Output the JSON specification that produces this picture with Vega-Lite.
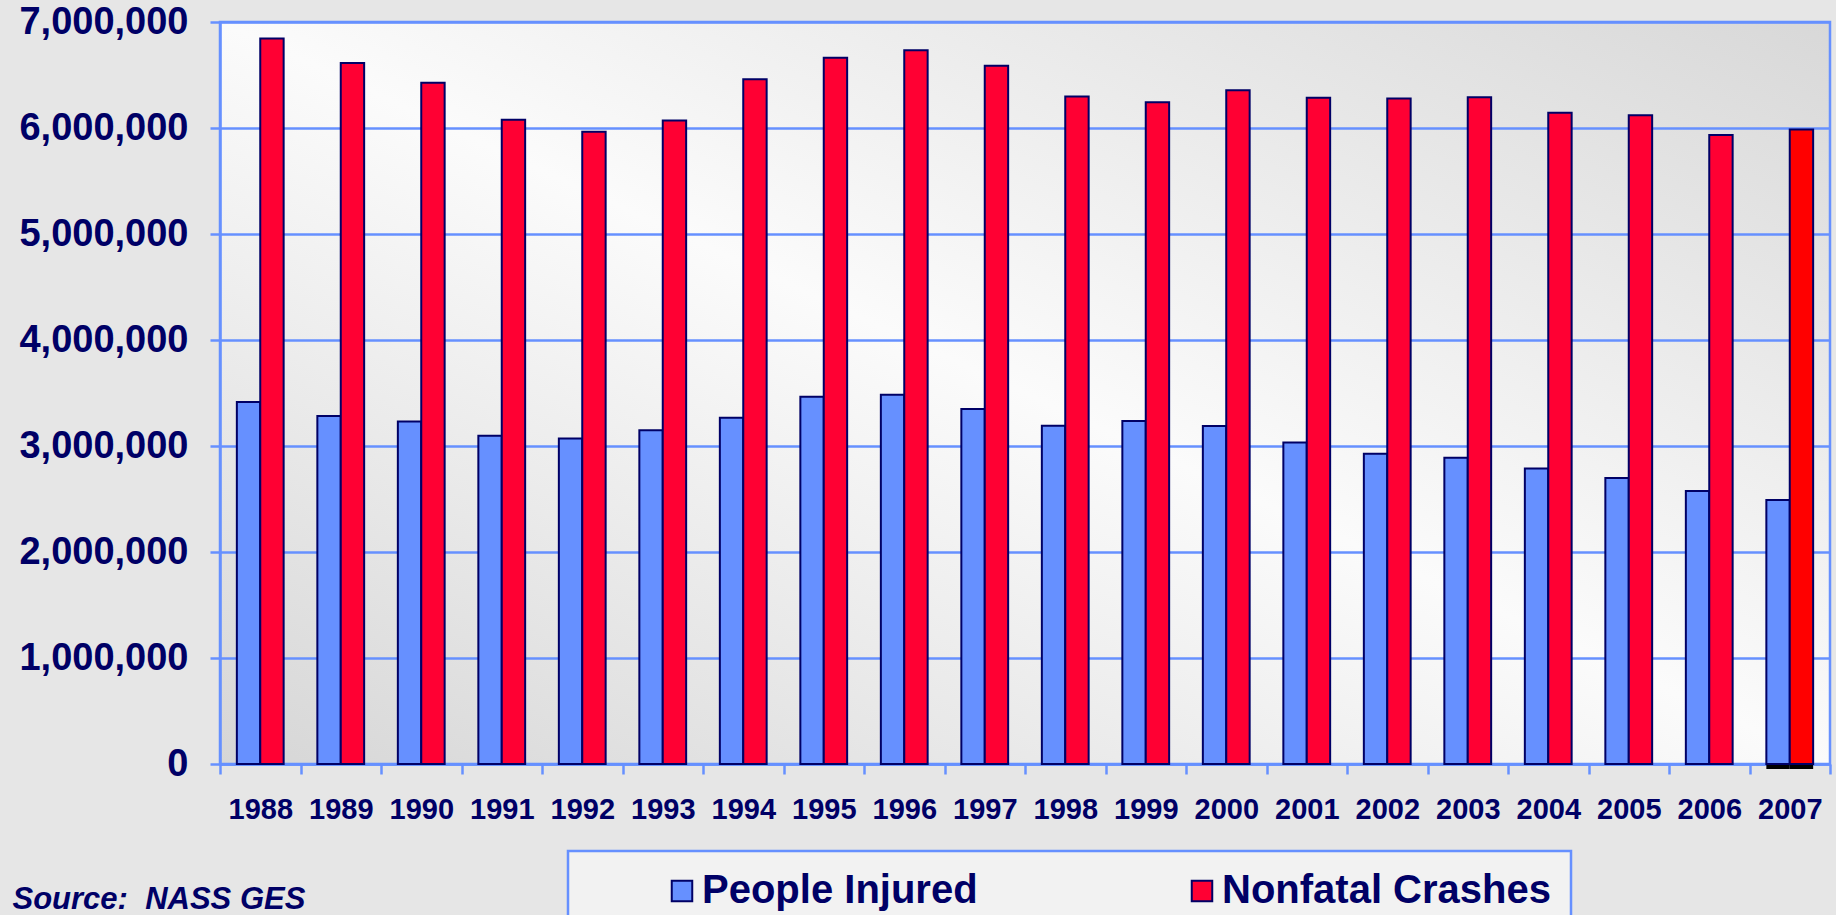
{
  "$schema": "https://vega.github.io/schema/vega-lite/v6.json",
  "width": 1610,
  "height": 742,
  "autosize": {"type": "none"},
  "padding": {"left": 220, "top": 22, "right": 6, "bottom": 151},
  "background": "#e6e6e6",
  "config": {
    "view": {
      "stroke": "#6690FF",
      "strokeWidth": 2.5,
      "fill": {
        "gradient": "linear",
        "x1": 0, "y1": 1, "x2": 1, "y2": 0,
        "stops": [
          {"offset": 0, "color": "#d6d6d6"},
          {"offset": 0.5, "color": "#fbfbfb"},
          {"offset": 1, "color": "#d8d8d8"}
        ]
      }
    }
  },
  "data": {
    "values": [
      {"year": "1988", "series": "People Injured", "value": 3416000},
      {"year": "1989", "series": "People Injured", "value": 3284000},
      {"year": "1990", "series": "People Injured", "value": 3231000},
      {"year": "1991", "series": "People Injured", "value": 3097000},
      {"year": "1992", "series": "People Injured", "value": 3070000},
      {"year": "1993", "series": "People Injured", "value": 3149000},
      {"year": "1994", "series": "People Injured", "value": 3266000},
      {"year": "1995", "series": "People Injured", "value": 3465000},
      {"year": "1996", "series": "People Injured", "value": 3483000},
      {"year": "1997", "series": "People Injured", "value": 3348000},
      {"year": "1998", "series": "People Injured", "value": 3192000},
      {"year": "1999", "series": "People Injured", "value": 3236000},
      {"year": "2000", "series": "People Injured", "value": 3189000},
      {"year": "2001", "series": "People Injured", "value": 3033000},
      {"year": "2002", "series": "People Injured", "value": 2926000},
      {"year": "2003", "series": "People Injured", "value": 2889000},
      {"year": "2004", "series": "People Injured", "value": 2788000},
      {"year": "2005", "series": "People Injured", "value": 2699000},
      {"year": "2006", "series": "People Injured", "value": 2575000},
      {"year": "2007", "series": "People Injured", "value": 2491000},
      {"year": "1988", "series": "Nonfatal Crashes", "value": 6845000},
      {"year": "1989", "series": "Nonfatal Crashes", "value": 6613000},
      {"year": "1990", "series": "Nonfatal Crashes", "value": 6427000},
      {"year": "1991", "series": "Nonfatal Crashes", "value": 6078000},
      {"year": "1992", "series": "Nonfatal Crashes", "value": 5965000},
      {"year": "1993", "series": "Nonfatal Crashes", "value": 6070000},
      {"year": "1994", "series": "Nonfatal Crashes", "value": 6460000},
      {"year": "1995", "series": "Nonfatal Crashes", "value": 6662000},
      {"year": "1996", "series": "Nonfatal Crashes", "value": 6733000},
      {"year": "1997", "series": "Nonfatal Crashes", "value": 6587000},
      {"year": "1998", "series": "Nonfatal Crashes", "value": 6298000},
      {"year": "1999", "series": "Nonfatal Crashes", "value": 6242000},
      {"year": "2000", "series": "Nonfatal Crashes", "value": 6356000},
      {"year": "2001", "series": "Nonfatal Crashes", "value": 6285000},
      {"year": "2002", "series": "Nonfatal Crashes", "value": 6278000},
      {"year": "2003", "series": "Nonfatal Crashes", "value": 6290000},
      {"year": "2004", "series": "Nonfatal Crashes", "value": 6143000},
      {"year": "2005", "series": "Nonfatal Crashes", "value": 6120000},
      {"year": "2006", "series": "Nonfatal Crashes", "value": 5935000},
      {"year": "2007", "series": "Nonfatal Crashes", "value": 5986000}
    ]
  },
  "encoding": {
    "x": {
      "field": "year",
      "type": "ordinal",
      "scale": {"paddingInner": 0, "paddingOuter": 0},
      "axis": {
        "title": "Source:\u00a0 NASS GES",
        "titleFont": "Liberation Sans",
        "titleFontSize": 31,
        "titleFontWeight": "bold",
        "titleFontStyle": "italic",
        "titleColor": "#000066",
        "titleX": -208,
        "titleY": 144,
        "titleAlign": "left",
        "titleAnchor": "start",
        "titleBaseline": "alphabetic",
        "labelAngle": 0,
        "labelFont": "Liberation Sans",
        "labelFontSize": 29,
        "labelFontWeight": "bold",
        "labelColor": "#000066",
        "labelPadding": 21,
        "tickBand": "extent",
        "tickSize": 10,
        "tickWidth": 2.5,
        "tickColor": "#6690FF",
        "domainColor": "#6690FF",
        "domainWidth": 2.5,
        "grid": false
      }
    },
    "xOffset": {
      "field": "series",
      "type": "nominal",
      "sort": ["People Injured", "Nonfatal Crashes"],
      "scale": {"paddingInner": 0, "paddingOuter": 0.72}
    },
    "y": {
      "field": "value",
      "type": "quantitative",
      "scale": {"domain": [0, 7000000], "nice": false},
      "axis": {
        "title": null,
        "values": [0, 1000000, 2000000, 3000000, 4000000, 5000000, 6000000, 7000000],
        "format": ",d",
        "labelFont": "Liberation Sans",
        "labelFontSize": 38,
        "labelFontWeight": "bold",
        "labelColor": "#000066",
        "labelPadding": 22,
        "tickSize": 10,
        "tickWidth": 2.5,
        "tickColor": "#6690FF",
        "domainColor": "#6690FF",
        "domainWidth": 2.5,
        "grid": true,
        "gridColor": "#6690FF",
        "gridWidth": 2.5,
        "gridOpacity": 1
      }
    }
  },
  "layer": [
    {
      "transform": [{"filter": "datum.year == '2007'"}],
      "mark": {"type": "bar", "color": "#000000", "xOffset": 8, "yOffset": 5}
    },
    {
      "mark": {"type": "bar", "stroke": "#000066", "strokeWidth": 2},
      "encoding": {
        "color": {
          "field": "series",
          "type": "nominal",
          "sort": ["People Injured", "Nonfatal Crashes"],
          "scale": {"domain": ["People Injured", "Nonfatal Crashes"], "range": ["#6690FF", "#FF0033"]},
          "condition": {"test": "datum.year == '2007' && datum.series == 'Nonfatal Crashes'", "value": "#FF0000"},
          "legend": {
            "title": null,
            "orient": "none",
            "legendX": 348,
            "legendY": 829,
            "direction": "horizontal",
            "symbolType": "square",
            "symbolSize": 420,
            "symbolStrokeColor": "#000066",
            "symbolStrokeWidth": 2,
            "symbolOpacity": 1,
            "symbolOffset": 74,
            "labelOffset": 0,
            "columnPadding": 130,
            "labelFont": "Liberation Sans",
            "labelFontSize": 40,
            "labelFontWeight": "bold",
            "labelColor": "#000066",
            "labelLimit": 0,
            "padding": 20,
            "strokeColor": "#6690FF",
            "fillColor": "#f2f2f2",
            "encode": {"legend": {"update": {"strokeWidth": {"value": 2.5}}}}
          }
        }
      }
    }
  ]
}
